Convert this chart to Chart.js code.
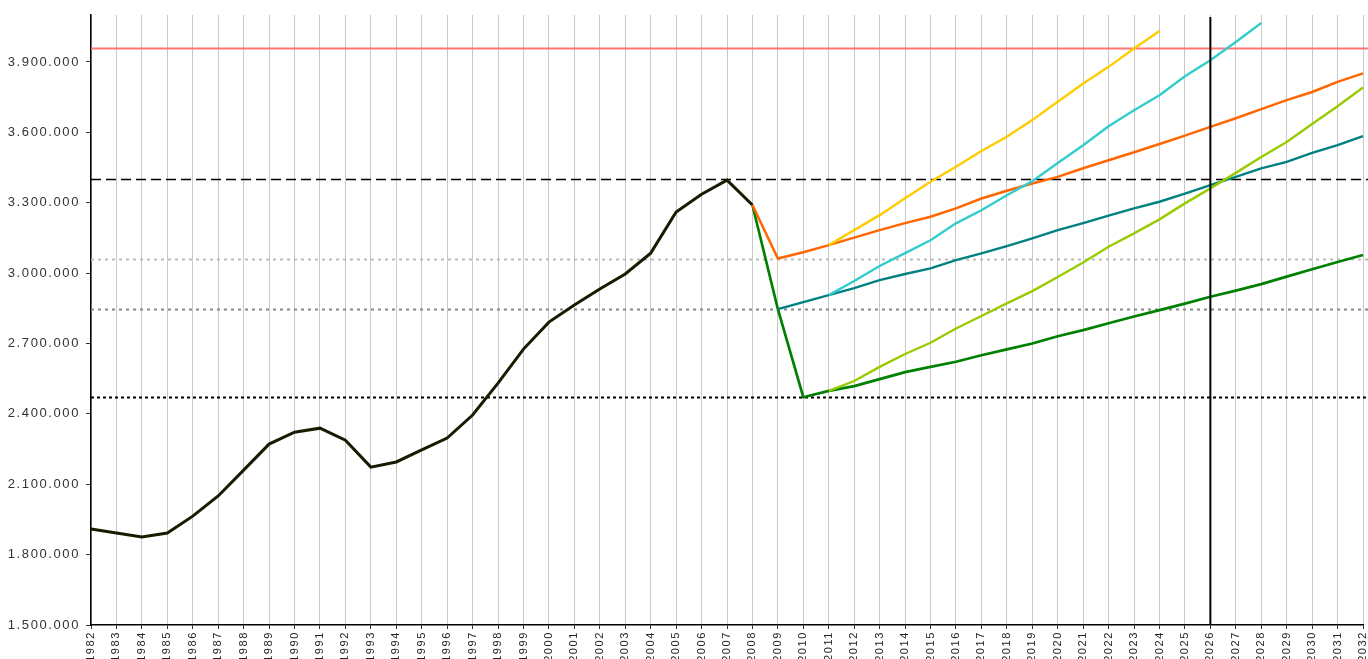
<!DOCTYPE html>
<html>
<head>
<meta charset="utf-8">
<script src="https://cdn.jsdelivr.net/npm/chart.js@4.4.1/dist/chart.umd.min.js"></script>
<style>
  html, body { margin: 0; padding: 0; background: #fff; }
  #wrap { width: 1368px; height: 659px; position: relative; }
</style>
</head>
<body>
<div id="wrap"><canvas id="myLineChart"></canvas></div>
<script>
const years = ['1982','1983','1984','1985','1986','1987','1988','1989','1990','1991','1992','1993','1994','1995','1996','1997','1998','1999','2000','2001','2002','2003','2004','2005','2006','2007','2008','2009','2010','2011','2012','2013','2014','2015','2016','2017','2018','2019','2020','2021','2022','2023','2024','2025','2026','2027','2028','2029','2030','2031','2032'];
const yTicks = [1500000, 1800000, 2100000, 2400000, 2700000, 3000000, 3300000, 3600000, 3900000];

// 1982 - 2008
const history = [1909000, 1892000, 1875000, 1892000, 1964000, 2050000, 2160000, 2271000, 2322000, 2339000, 2288000, 2173000, 2195000, 2246000, 2297000, 2395000, 2531000, 2676000, 2791000, 2864000, 2932000, 2996000, 3085000, 3260000, 3336000, 3396000, 3290000];
// 2008 - 2032
const orangeSeries = [3290000, 3062000, 3089000, 3119000, 3151000, 3183000, 3213000, 3240000, 3276000, 3318000, 3351000, 3382000, 3410000, 3447000, 3481000, 3515000, 3550000, 3586000, 3623000, 3660000, 3699000, 3737000, 3772000, 3815000, 3851000];
// 2008 - 2032
const greenSeries = [3290000, 2846000, 2471000, 2498000, 2518000, 2548000, 2578000, 2600000, 2622000, 2650000, 2675000, 2700000, 2731000, 2757000, 2786000, 2815000, 2842000, 2870000, 2899000, 2925000, 2953000, 2985000, 3016000, 3047000, 3077000];
// 2009 - 2032
const tealSeries = [2846000, 2876000, 2906000, 2936000, 2970000, 2996000, 3020000, 3055000, 3084000, 3115000, 3148000, 3183000, 3213000, 3245000, 3276000, 3304000, 3339000, 3375000, 3410000, 3446000, 3474000, 3512000, 3545000, 3584000];
// 2011 - 2024
const yellowSeries = [3119000, 3183000, 3247000, 3319000, 3389000, 3453000, 3520000, 3581000, 3652000, 3730000, 3808000, 3879000, 3957000, 4032000];
// 2011 - 2028
const cyanSeries = [2906000, 2966000, 3030000, 3085000, 3140000, 3212000, 3268000, 3332000, 3392000, 3469000, 3545000, 3626000, 3694000, 3758000, 3839000, 3907000, 3985000, 4066000];
// 2011 - 2032
const limeSeries = [2498000, 2540000, 2600000, 2655000, 2703000, 2764000, 2817000, 2871000, 2923000, 2983000, 3045000, 3112000, 3169000, 3229000, 3297000, 3361000, 3427000, 3495000, 3559000, 3635000, 3711000, 3791000];

const refValues = [3960000, 3400000, 3060000, 2846000, 2471000];
const markerYear = '2026';

// put a series onto the full year axis, starting at a given year
function place(startYear, values) {
    const out = years.map(() => null);
    const i0 = years.indexOf(startYear);
    values.forEach((v, i) => { out[i0 + i] = v; });
    return out;
}

function fmt(v) {
    return String(Math.round(v)).replace(/\B(?=(\d{3})+(?!\d))/g, '.');
}

const refStyles = [
    { color: '#ff7777', width: 2, dash: [] },
    { color: '#000000', width: 1.3, dash: [10, 5] },
    { color: '#bbbbbb', width: 2, dash: [3, 4] },
    { color: '#888888', width: 2, dash: [3, 4] },
    { color: '#000000', width: 2, dash: [3, 3] }
];

const extraLines = {
    id: 'extraLines',
    beforeDraw(chart) {
        chart.ctx.letterSpacing = '1.6px';
    },
    beforeDatasetsDraw(chart) {
        const { ctx, chartArea, scales } = chart;
        ctx.save();
        refValues.forEach((v, i) => {
            const s = refStyles[i];
            const y = Math.round(scales.y.getPixelForValue(v)) + 0.5;
            ctx.strokeStyle = s.color;
            ctx.lineWidth = s.width;
            ctx.setLineDash(s.dash);
            ctx.beginPath();
            ctx.moveTo(chartArea.left, y);
            ctx.lineTo(chartArea.right + 5, y);
            ctx.stroke();
        });
        ctx.restore();
    },
    afterDatasetsDraw(chart) {
        const { ctx, chartArea, scales } = chart;
        const x = scales.x.getPixelForValue(years.indexOf(markerYear));
        ctx.save();
        ctx.strokeStyle = '#000';
        ctx.lineWidth = 2;
        ctx.beginPath();
        ctx.moveTo(x, chartArea.top + 2);
        ctx.lineTo(x, chartArea.bottom);
        ctx.stroke();
        ctx.restore();
    }
};

function line(data, color, width) {
    return {
        data: data,
        borderColor: color,
        borderWidth: width,
        pointRadius: 0,
        fill: false,
        tension: 0,
        spanGaps: false
    };
}

document.addEventListener("DOMContentLoaded", function () {
    const ctx = document.getElementById('myLineChart').getContext('2d');
    new Chart(ctx, {
        type: 'line',
        data: {
            labels: years,
            datasets: [
                line(place('2011', yellowSeries), '#ffcc00', 2.4),
                line(place('2011', cyanSeries), '#33cccc', 2.4),
                line(place('2008', orangeSeries), '#ff6600', 2.5),
                line(place('2011', limeSeries), '#99cc00', 2.4),
                line(place('2009', tealSeries), '#008080', 2.4),
                line(place('2008', greenSeries), '#008000', 2.7),
                line(place('1982', history), '#1a1a00', 3)
            ]
        },
        options: {
            responsive: true,
            maintainAspectRatio: false,
            animation: false,
            layout: { padding: { top: 15, right: 5, left: 0, bottom: 0 } },
            plugins: {
                legend: { display: false },
                tooltip: { enabled: false }
            },
            scales: {
                x: {
                    offset: false,
                    grid: {
                        color: '#c8c8c8',
                        lineWidth: 1,
                        tickColor: '#333',
                        tickLength: 4
                    },
                    border: { color: '#000', width: 1.5 },
                    ticks: {
                        autoSkip: false,
                        minRotation: 90,
                        maxRotation: 90,
                        padding: 2,
                        color: '#222',
                        font: { family: 'Liberation Sans', size: 11 }
                    },
                    afterFit(scale) {
                        scale.height = 34;
                        scale.paddingLeft = 0;
                        scale.paddingRight = 0;
                    }
                },
                y: {
                    min: 1500000,
                    max: 4100000,
                    grid: {
                        drawOnChartArea: false,
                        tickColor: '#333',
                        tickLength: 5
                    },
                    border: { color: '#000', width: 1.5 },
                    ticks: {
                        padding: 6,
                        color: '#333',
                        font: { family: 'Liberation Sans', size: 13 },
                        callback: v => fmt(v)
                    },
                    afterBuildTicks(scale) {
                        scale.ticks = yTicks.map(v => ({ value: v }));
                    },
                    afterFit(scale) { scale.width = 91; }
                }
            }
        },
        plugins: [extraLines]
    });
});
</script>
</body>
</html>
